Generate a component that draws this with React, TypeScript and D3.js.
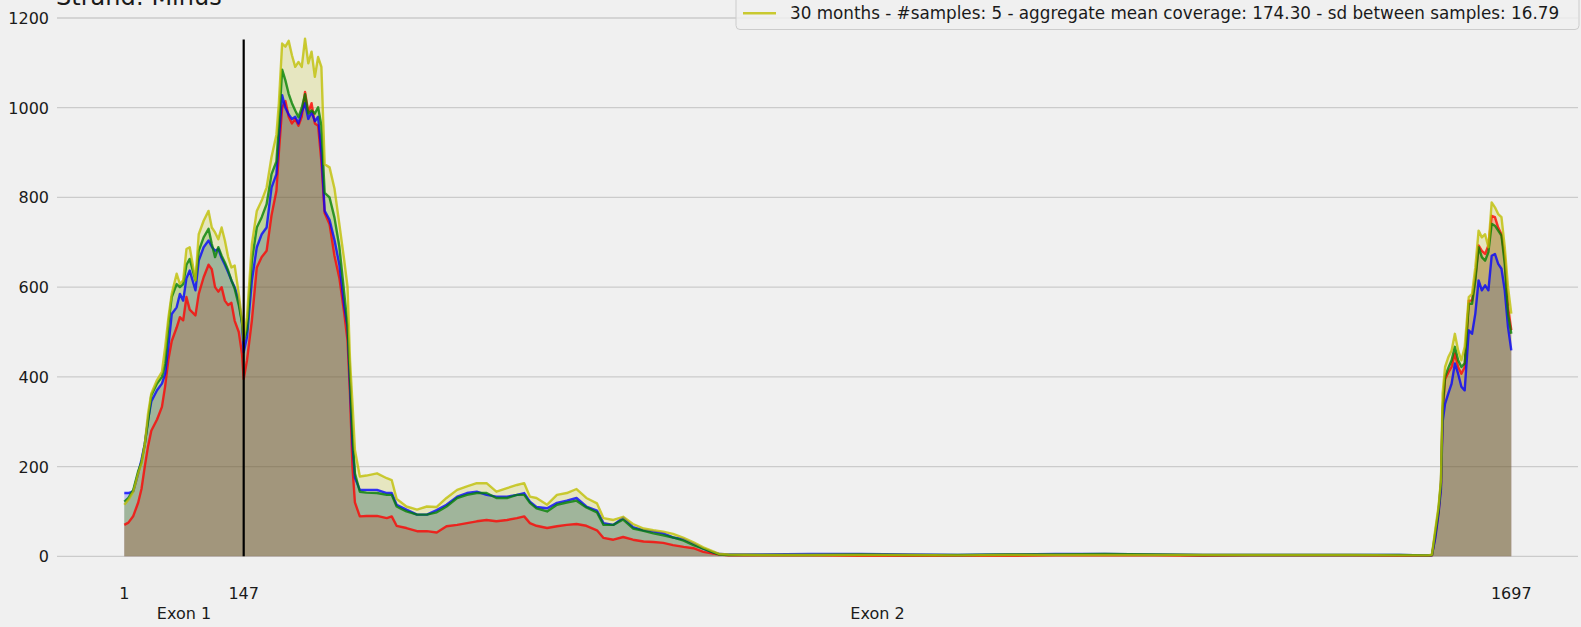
import React from "react";
import * as d3 from "d3";

const positions = [
  1, 6, 12, 18, 22, 26, 30, 34, 41, 47, 51, 55, 59, 65, 69, 73, 77, 81, 88, 92, 98, 104, 108, 112, 116, 120, 124, 128, 132, 136, 141, 145, 147,
  151, 157, 163, 169, 175, 181, 187, 190,
  194, 198, 202, 206, 210, 214, 218, 222, 226, 230, 234, 238, 242,
  246, 252, 258, 264, 270, 274, 277, 280, 283,
  289, 297, 310, 322, 328, 334, 346, 359, 371, 383, 395, 408, 420, 432, 444, 456, 469, 481, 490, 497, 505, 518, 530, 542, 554, 566, 579, 587, 599, 611, 623, 636, 648, 660, 672, 685, 697, 709, 721, 729, 740,
  780, 840, 900, 960, 1020, 1080, 1140, 1200, 1260, 1320, 1380, 1440, 1500, 1560, 1596,
  1600, 1604, 1608, 1611, 1613, 1616, 1620, 1624, 1628, 1632, 1636, 1640, 1645, 1649, 1653, 1657, 1661, 1665, 1669, 1673, 1677, 1681, 1685, 1689, 1693, 1697,
];

const redValues = [
  70, 75, 90, 120, 150, 200, 245, 280, 305, 333, 380, 440, 480, 510, 533, 526, 578, 550, 537, 585, 622, 650, 640, 600, 590, 600, 570, 560, 565, 525, 500, 450, 395,
  437, 526, 644, 667, 681, 760, 815, 900,
  1000, 1015, 980, 965, 975, 960, 980, 1035, 990, 1010, 965, 960, 880,
  765, 740, 670, 620, 541, 480, 360, 200, 120,
  89, 90, 90, 85, 89, 68, 63, 56, 56, 53, 67, 70, 74, 78, 81, 78, 81, 85, 89, 74, 68, 63, 67, 70, 72, 68, 58, 41, 37, 43, 37, 33, 32, 30, 25, 21, 18, 10, 6, 4, 2,
  2, 2, 1, 1, 1, 1, 2, 2, 2, 1, 2, 2, 2, 1, 1,
  2, 45, 98, 160, 320, 395, 410, 422, 452, 422, 407, 422, 570, 570, 622, 693, 681, 674, 693, 759, 756, 733, 718, 667, 556, 504,
];

const blueValues = [
  141, 141, 145, 185, 215, 250, 304, 345, 370, 385, 407, 470, 540, 555, 585, 570, 620, 637, 593, 659, 689, 704, 690, 681, 685, 665, 650, 633, 615, 600, 570, 520, 455,
  489, 615, 689, 718, 733, 822, 852, 930,
  1028, 1000, 985, 975, 980, 965, 990, 1010, 975, 990, 970, 980, 900,
  770, 750, 705, 650, 556, 510, 380, 250, 175,
  148, 148, 148, 141, 141, 115, 104, 93, 93, 103, 115, 133, 141, 144, 137, 133, 133, 137, 141, 122, 110, 107, 119, 124, 130, 111, 102, 74, 70, 86, 65, 58, 55, 51, 42, 38, 28, 17, 9, 5, 4,
  4, 5, 5, 4, 3, 4, 5, 5, 4, 3, 3, 3, 3, 3, 2,
  3, 40, 95, 150, 300, 340, 363, 385, 430, 407, 378, 370, 504, 496, 541, 615, 593, 604, 593, 670, 674, 652, 641, 593, 511, 459,
];

const greenValues = [
  122, 130, 148, 190, 210, 250, 300, 359, 385, 400, 430, 518, 578, 607, 600, 607, 650, 663, 615, 681, 711, 730, 696, 667, 689, 670, 655, 637, 615, 596, 560, 520, 481,
  504, 659, 733, 756, 785, 852, 880, 960,
  1085, 1061, 1031, 1010, 994, 979, 1000, 1030, 987, 994, 987, 1001, 960,
  810, 800, 755, 690, 585, 515, 400, 270, 185,
  144, 142, 141, 137, 137, 111, 100, 93, 93, 98, 111, 130, 137, 141, 141, 130, 130, 137, 137, 119, 107, 100, 115, 120, 124, 109, 98, 70, 70, 82, 62, 57, 51, 47, 42, 35, 25, 17, 9, 4, 3,
  3, 3, 4, 3, 3, 4, 4, 5, 4, 3, 3, 3, 3, 3, 2,
  3, 52, 104, 165, 330, 400, 420, 437, 467, 437, 422, 430, 563, 563, 615, 689, 667, 659, 678, 741, 737, 726, 715, 652, 541, 496,
];

const yellowValues = [
  115, 126, 144, 185, 207, 248, 318, 363, 393, 411, 467, 533, 585, 630, 607, 615, 685, 689, 615, 718, 748, 770, 733, 722, 707, 733, 704, 667, 644, 648, 585, 526, 481,
  533, 696, 770, 793, 822, 890, 940, 1010,
  1143, 1136, 1149, 1117, 1091, 1102, 1091, 1154, 1099, 1125, 1069, 1113, 1091,
  874, 867, 820, 740, 659, 600, 437, 341, 237,
  178, 180, 185, 174, 170, 128, 111, 104, 111, 110, 130, 148, 156, 163, 163, 144, 152, 159, 163, 133, 130, 115, 137, 141, 150, 130, 118, 85, 81, 88, 72, 62, 58, 55, 50, 41, 31, 20, 11, 5, 4,
  3, 3, 3, 3, 2, 3, 3, 3, 3, 3, 3, 3, 3, 2, 2,
  4, 59, 111, 170, 363, 422, 444, 459, 496, 459, 437, 467, 578, 585, 644, 726, 711, 718, 689, 789, 778, 763, 756, 689, 600, 541,
];

const seriesColors = ["#ff0000", "#0000ff", "#008000", "#bfbf00"];
const fillAlphas = [0.25, 0.2, 0.2, 0.2];
const yTicks = [0, 200, 400, 600, 800, 1000, 1200];
const xTicks = [1, 147, 1697];
const exonLabels = [
  { name: "Exon 1", from: 1, to: 147 },
  { name: "Exon 2", from: 147, to: 1697 },
];
const boundary = 147;
const boundaryTop = 1152;
const titleText = "Strand: Minus";
const legendText = "30 months - #samples: 5 - aggregate mean coverage: 174.30 - sd between samples: 16.79";

const W = 1581;
const H = 627;

export default function App() {
  const x = d3.scaleLinear().domain([1, 1697]).range([124.3, 1511.3]);
  const y = d3.scaleLinear().domain([0, 1200]).range([556.3, 18]);
  const plotLeft = 57;
  const plotRight = 1578;

  const allSeries = [redValues, blueValues, greenValues, yellowValues];
  const line = d3
    .line<number>()
    .x((_, i) => x(positions[i]))
    .y((d) => y(d));
  const area = d3
    .area<number>()
    .x((_, i) => x(positions[i]))
    .y0(y(0))
    .y1((d) => y(d));

  const font = "DejaVu Sans, sans-serif";

  return (
    <svg
      width={W}
      height={H}
      style={{ position: "absolute", left: 0, top: 0 }}
      xmlns="http://www.w3.org/2000/svg"
    >
      <rect x={0} y={0} width={W} height={H} fill="#f0f0f0" />
      {yTicks.map((t) => (
        <g key={t}>
          <line x1={plotLeft} x2={plotRight} y1={y(t)} y2={y(t)} stroke="#cbcbcb" strokeWidth={1.3} />
          <text x={49} y={y(t) + 6} textAnchor="end" fontFamily={font} fontSize={16} fill="#1a1a1a">
            {t}
          </text>
        </g>
      ))}
      {allSeries.map((vals, k) => (
        <path key={"a" + k} d={area(vals) || ""} fill={seriesColors[k]} fillOpacity={fillAlphas[k]} stroke="none" />
      ))}
      {allSeries.map((vals, k) => (
        <path
          key={"l" + k}
          d={line(vals) || ""}
          fill="none"
          stroke={seriesColors[k]}
          strokeOpacity={0.78}
          strokeWidth={2.4}
          strokeLinejoin="round"
        />
      ))}
      <line x1={x(boundary)} x2={x(boundary)} y1={y(0)} y2={y(boundaryTop)} stroke="#000" strokeWidth={2.2} />
      {xTicks.map((t) => (
        <text key={t} x={x(t)} y={599} textAnchor="middle" fontFamily={font} fontSize={16} fill="#1a1a1a">
          {t}
        </text>
      ))}
      {exonLabels.map((e) => (
        <text
          key={e.name}
          x={(x(e.from) + x(e.to)) / 2}
          y={619}
          textAnchor="middle"
          fontFamily={font}
          fontSize={16}
          fill="#1a1a1a"
        >
          {e.name}
        </text>
      ))}
      <text x={56} y={5} fontFamily={font} fontSize={24} fill="#1a1a1a">
        {titleText}
      </text>
      <rect x={736} y={-40} width={843} height={69.5} rx={4} fill="#f0f0f0" fillOpacity={0.8} stroke="#cccccc" strokeWidth={1} />
      <line x1={743} x2={776} y1={13.3} y2={13.3} stroke="#bfbf00" strokeOpacity={0.8} strokeWidth={2.5} />
      <text x={790} y={19} fontFamily={font} fontSize={16.8} fill="#1a1a1a">
        {legendText}
      </text>
    </svg>
  );
}
